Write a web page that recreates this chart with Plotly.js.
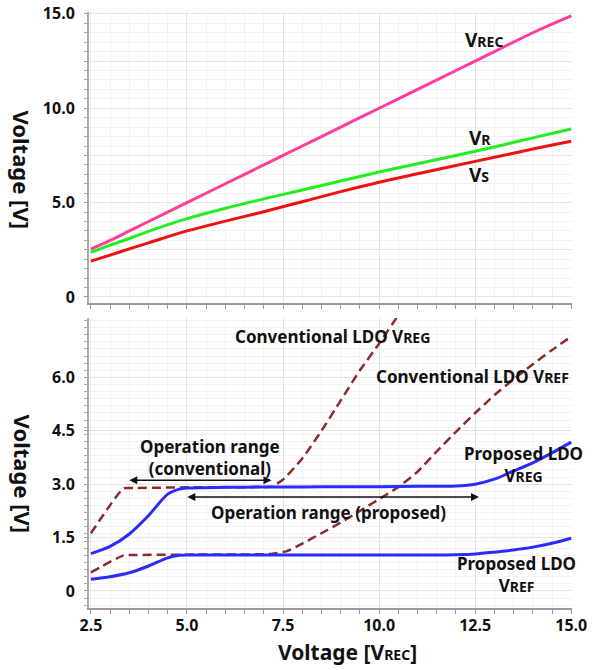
<!DOCTYPE html>
<html>
<head>
<meta charset="utf-8">
<script src="https://cdn.plot.ly/plotly-3.0.1.min.js"></script>
<style>html,body{margin:0;padding:0;background:#fff;}#chart{width:599px;height:670px;}</style>
</head>
<body>
<div id="chart"></div>
<script>
// ---- Top panel data (x = VREC input) ----
const xTop = [2.5, 3, 3.5, 4, 5, 6, 7, 8, 9, 10, 11, 12, 13, 14, 15];
const vRec = [2.54, 3, 3.5, 4, 5, 6, 7, 8, 9, 10, 11, 12, 13, 14, 14.89];
const vR   = [2.37, 2.75, 3.1, 3.48, 4.15, 4.7, 5.2, 5.67, 6.15, 6.62, 7.06, 7.5, 7.95, 8.43, 8.9];
const vS   = [1.9, 2.22, 2.55, 2.87, 3.5, 4.02, 4.52, 5.05, 5.58, 6.08, 6.53, 6.97, 7.4, 7.84, 8.25];

// ---- Bottom panel data ----
const xProp = [2.5, 3, 3.5, 4, 4.5, 4.8, 5, 6, 7, 8, 9, 10, 11, 12, 12.5, 13, 13.5, 14, 14.5, 15];
const propVreg = [1.05, 1.25, 1.6, 2.12, 2.72, 2.86, 2.89, 2.91, 2.92, 2.92, 2.93, 2.93, 2.94, 2.95, 3.0, 3.14, 3.37, 3.6, 3.88, 4.18];
const propVref = [0.33, 0.4, 0.51, 0.7, 0.93, 1.0, 1.01, 1.01, 1.01, 1.01, 1.01, 1.01, 1.01, 1.02, 1.04, 1.09, 1.15, 1.23, 1.34, 1.48];

const xConvReg = [2.5, 3.35, 3.6, 5, 7, 7.2, 7.5, 8, 8.5, 9, 9.5, 10, 10.5, 10.65];
const convVreg = [1.62, 2.88, 2.89, 2.91, 2.92, 2.93, 3.13, 3.72, 4.5, 5.35, 6.2, 6.95, 7.75, 8.0];

const xConvRef = [2.5, 3.35, 3.6, 5, 7, 7.2, 7.6, 8, 8.5, 9, 9.5, 10, 10.5, 11, 11.5, 12, 12.5, 13, 13.5, 14, 14.5, 15];
const convVref = [0.52, 1.0, 1.01, 1.02, 1.03, 1.04, 1.12, 1.33, 1.62, 1.92, 2.25, 2.58, 2.92, 3.35, 3.92, 4.47, 5.0, 5.5, 5.95, 6.37, 6.77, 7.15];

// operation ranges [start, end, level]
const rangeConv = [3.46, 7.2, 3.11];
const rangeProp = [4.97, 12.6, 2.64];

// tick labels
const topTickVals = [0, 2.5, 5, 7.5, 10, 12.5, 15];
const topTickText = ['0', '', '5.0', '', '10.0', '', '15.0'];
const botTickVals = [0, 1.5, 3, 4.5, 6];
const botTickText = ['0', '1.5', '3.0', '4.5', '6.0'];
const xTickVals = [2.5, 5, 7.5, 10, 12.5, 15];
const xTickText = ['2.5', '5.0', '7.5', '10.0', '12.5', '15.0'];

const FONT = 'Noto Sans, DejaVu Sans, sans-serif';
const TXT = '#111111';
const sub = (s, n) => `<span style="font-size:${n}px">${s}</span>`;

const smooth = (s) => ({shape: 'spline', smoothing: s});
const traces = [
  {x: xTop, y: vRec, xaxis: 'x', yaxis: 'y', mode: 'lines', name: 'VREC', line: Object.assign({color: '#ff3d9a', width: 3}, smooth(1))},
  {x: xTop, y: vR, xaxis: 'x', yaxis: 'y', mode: 'lines', name: 'VR', line: Object.assign({color: '#22ee22', width: 3}, smooth(1))},
  {x: xTop, y: vS, xaxis: 'x', yaxis: 'y', mode: 'lines', name: 'VS', line: Object.assign({color: '#ee1111', width: 3}, smooth(1))},
  {x: xConvReg, y: convVreg, xaxis: 'x2', yaxis: 'y2', mode: 'lines', name: 'Conventional LDO VREG', line: Object.assign({color: '#8e2a2a', width: 2.5, dash: '9px,5px'}, smooth(0.5))},
  {x: xConvRef, y: convVref, xaxis: 'x2', yaxis: 'y2', mode: 'lines', name: 'Conventional LDO VREF', line: Object.assign({color: '#8e2a2a', width: 2.5, dash: '9px,5px'}, smooth(0.5))},
  {x: xProp, y: propVreg, xaxis: 'x2', yaxis: 'y2', mode: 'lines', name: 'Proposed LDO VREG', line: Object.assign({color: '#2b2bff', width: 3}, smooth(0.8))},
  {x: xProp, y: propVref, xaxis: 'x2', yaxis: 'y2', mode: 'lines', name: 'Proposed LDO VREF', line: Object.assign({color: '#2b2bff', width: 3}, smooth(0.8))}
];

const tickFont = {family: FONT, size: 16, color: TXT, weight: 'bold'};
const gridMajor = '#e4e4e4';
const gridMinor = '#f2f2f2';

function xAx(anchor, labels) {
  return {
    anchor: anchor, domain: [0, 1], range: [2.45, 15.02],
    tickmode: 'array', tickvals: xTickVals, ticktext: labels ? xTickText : xTickVals.map(() => ''),
    showticklabels: labels, ticks: 'outside', ticklen: 4, tickcolor: '#999',
    tickfont: tickFont, ticklabelstandoff: -2,
    showgrid: true, gridcolor: gridMajor, gridwidth: 1,
    minor: {dtick: 0.5, tick0: 0, ticks: 'outside', ticklen: 4, tickcolor: '#999', showgrid: true, gridcolor: gridMinor},
    showline: true, linecolor: '#999', linewidth: 1.5, zeroline: false, fixedrange: true
  };
}
function yAx(domain, range, vals, text, minorDt) {
  return {
    domain: domain, range: range, tickmode: 'array', tickvals: vals, ticktext: text,
    ticks: 'outside', ticklen: 3, tickcolor: '#999', tickfont: tickFont, ticklabelstandoff: 6,
    showgrid: true, gridcolor: gridMajor, gridwidth: 1,
    minor: {dtick: minorDt, tick0: 0, ticks: 'outside', ticklen: 3, tickcolor: '#aaa', showgrid: true, gridcolor: gridMinor},
    showline: true, linecolor: '#aaa', linewidth: 2, zeroline: false, fixedrange: true
  };
}

const annFont = (s) => ({family: FONT, size: s, color: TXT, weight: 'bold'});
function lab(xref, yref, x, y, text, size) {
  return {xref: xref, yref: yref, x: x, y: y, text: text, showarrow: false, font: annFont(size), xanchor: 'center', yanchor: 'middle'};
}
function arrow(r) {
  return {xref: 'x2', yref: 'y2', axref: 'x2', ayref: 'y2', x: r[1], y: r[2], ax: r[0], ay: r[2], text: '',
    showarrow: true, arrowhead: 2, startarrowhead: 2, arrowside: 'end+start', arrowsize: 1, arrowwidth: 1.6, arrowcolor: '#111'};
}

const annotations = [
  lab('x', 'y', 12.73, 13.6, 'V' + sub('REC', 14), 19),
  lab('x', 'y', 12.63, 8.45, 'V' + sub('R', 14), 19),
  lab('x', 'y', 12.6, 6.47, 'V' + sub('S', 14), 19),
  lab('x2', 'y2', 8.79, 7.14, 'Conventional LDO V' + sub('REG', 14), 17),
  lab('x2', 'y2', 12.42, 6.03, 'Conventional LDO V' + sub('REF', 14), 17),
  lab('x2', 'y2', 13.76, 3.54, 'Proposed LDO<br>V' + sub('REG', 14), 17),
  lab('x2', 'y2', 13.57, 0.46, 'Proposed LDO<br>V' + sub('REF', 14), 17),
  lab('x2', 'y2', 5.6, 3.76, 'Operation range<br>(conventional)', 17),
  lab('x2', 'y2', 8.69, 2.2, 'Operation range (proposed)', 17),
  arrow(rangeConv),
  arrow(rangeProp),
  // axis titles
  lab('paper', 'paper', -0.1377, 0.735, 'Voltage [V]', 22),
  lab('paper', 'paper', -0.1377, 0.2248, 'Voltage [V]', 22),
  lab('x2', 'paper', 9.18, -0.0738, 'Voltage [V' + sub('REC', 14) + ']', 21)
];
annotations[11].textangle = 90;
annotations[12].textangle = 90;

const layout = {
  width: 599, height: 670,
  margin: {l: 89, r: 27, t: 12, b: 62},
  paper_bgcolor: '#ffffff', plot_bgcolor: '#ffffff',
  showlegend: false,
  font: {family: FONT, color: TXT},
  xaxis: xAx('y', false),
  yaxis: yAx([0.5117, 1], [-0.32, 15.1], topTickVals, topTickText, 0.5),
  xaxis2: xAx('y2', true),
  yaxis2: yAx([0, 0.4866], [-0.48, 7.67], botTickVals, botTickText, 0.2),
  annotations: annotations
};

Plotly.newPlot('chart', traces, layout, {displayModeBar: false, staticPlot: true});
</script>
</body>
</html>
